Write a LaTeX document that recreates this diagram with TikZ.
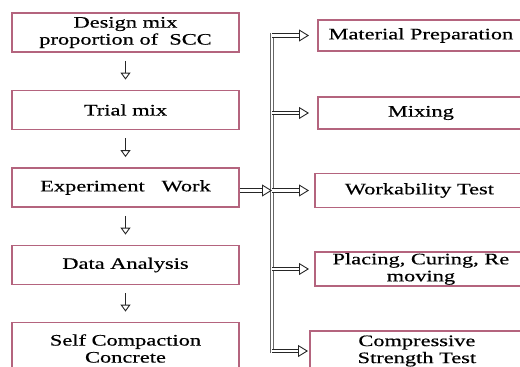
\documentclass[tikz,border=0pt]{standalone}
\usepackage{fontspec}
\setmainfont{Liberation Serif}
\newfontfamily\boxfont[FakeStretch=1.4, FakeBold=0.5]{Liberation Serif}
\usetikzlibrary{arrows.meta}
\definecolor{boxrim}{RGB}{180,100,126}
\tikzstyle{stage}=[draw=boxrim, line width=1.8pt, fill=white, align=center, minimum width=227pt, minimum height=39pt, inner sep=1pt, font={\fontsize{16}{17}\boxfont}]
\tikzstyle{task}=[stage, anchor=west]
\tikzstyle{hollow}=[draw=black!85, line width=0.9pt, double=white, double distance=2.6pt, -{Triangle[open, length=10pt, width=12pt]}]
\tikzstyle{downarr}=[hollow, -{Triangle[open, length=7pt, width=10pt]}]
\tikzstyle{spine}=[draw=black!60, line width=1pt, double=white, double distance=1.2pt]

\begin{document}
\begin{tikzpicture}[x=1pt,y=-1pt,node distance=77.5pt]
  \useasboundingbox (0,0) rectangle (520,367);
  \clip (0,0) rectangle (520,367);

  % left column
  \node [stage] (design) at (125.5,32.5) {Design mix\\proportion of\ \ SCC};
  \node [stage] (trial) [below of=design] {Trial mix};
  \node [stage] (exper) [below of=trial] {Experiment\ \ \ Work};
  \node [stage] (data) [below of=exper] {Data Analysis};
  \node [stage, minimum height=52pt] (self) [below of=data, node distance=83.5pt] {Self Compaction\\Concrete};

  % right column
  \node [task, minimum width=206pt, minimum height=31pt] (mat) at (317,35.5) {Material Preparation};
  \node [task, minimum width=206pt, minimum height=32pt] (mix) at (317,113) {Mixing};
  \node [task, minimum width=209pt, minimum height=34pt] (work) at (314,190.5) {Workability Test};
  \node [task, minimum width=212pt, minimum height=32pt] (place) at (314,269) {Placing, Curing, Re\\moving};
  \node [task, minimum width=214pt, minimum height=40pt] (comp) at (309,351) {Compressive\\Strength Test};

  \coordinate (top) at (272,33);
  \coordinate (bot) at (272,353);

  \path[downarr, shorten <=8pt, shorten >=10pt] (design) edge (trial);
  \path[downarr, shorten <=8pt, shorten >=10pt] (trial) edge (exper);
  \path[downarr, shorten <=8pt, shorten >=10pt] (exper) edge (data);
  \path[downarr, shorten <=8pt, shorten >=10pt] (data) edge (self);

  \draw[spine] (top) -- (bot);
  \draw[hollow] (exper.east |- work.west) -- (work.west -| top);

  \draw[hollow, shorten >=8pt] (mat.west -| top) -- (mat.west);
  \draw[hollow, shorten >=8pt] (mix.west -| top) -- (mix.west);
  \draw[hollow, shorten >=5pt] (work.west -| top) -- (work.west);
  \draw[hollow, shorten >=5pt] (place.west -| top) -- (place.west);
  \draw[hollow, shorten >=1pt] (comp.west -| top) -- (comp.west);
\end{tikzpicture}
\end{document}
